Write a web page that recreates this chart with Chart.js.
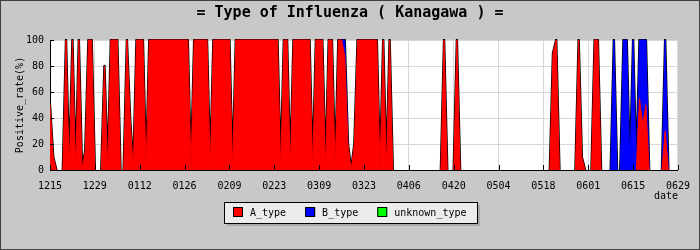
<!DOCTYPE html>
<html>
<head>
<meta charset="utf-8">
<script src="https://cdn.jsdelivr.net/npm/chart.js@4/dist/chart.umd.min.js"></script>
<style>
  html, body { margin: 0; padding: 0; background: #c8c8c8; }
  canvas { display: block; }
</style>
</head>
<body>
<canvas id="flu" width="700" height="250"></canvas>
<script>
// x axis: one tick every 14 days, 1215 .. 0629 (day 0 .. 196)
const tickLabels = ['1215', '1229', '0112', '0126', '0209', '0223', '0309', '0323',
  '0406', '0420', '0504', '0518', '0601', '0615', '0629'];

// daily positive rate (%), one row = 14 days
const aType = [
  50, 10, 0, 0, 0, 100, 0, 100, 0, 100, 0, 15, 100, 100,
  0, 0, 0, 80, 0, 100, 100, 100, 0, 0, 100, 40, 0, 100,
  100, 100, 0, 100, 100, 100, 100, 100, 100, 100, 100, 100, 100, 100,
  100, 100, 0, 100, 100, 100, 100, 100, 0, 100, 100, 100, 100, 100,
  100, 0, 100, 100, 100, 100, 100, 100, 100, 100, 100, 100, 100, 100,
  100, 100, 0, 100, 100, 0, 100, 100, 100, 100, 100, 100, 0, 100,
  100, 100, 0, 100, 100, 0, 100, 100, 88, 20, 0, 20, 100, 100,
  100, 100, 100, 100, 100, 0, 100, 0, 100, 0, 0, 0, 0, 0,
  0, 0, 0, 0, 0, 0, 0, 0, 0, 0, 0, 100, 0, 0,
  0, 100, 0, 0, 0, 0, 0, 0, 0, 0, 0, 0, 0, 0,
  0, 0, 0, 0, 0, 0, 0, 0, 0, 0, 0, 0, 0, 0,
  0, 0, 0, 90, 100, 0, 0, 0, 0, 0, 0, 100, 10, 0,
  0, 0, 100, 100, 0, 0, 0, 0, 0, 0, 0, 0, 0, 0,
  0, 0, 55, 35, 50, 0, 0, 0, 0, 0, 30, 0, 0, 0,
  0
];
const bType = [
  0, 0, 0, 0, 0, 0, 0, 0, 0, 0, 0, 0, 0, 0,
  0, 0, 0, 0, 0, 0, 0, 0, 0, 0, 0, 0, 0, 0,
  0, 0, 0, 0, 0, 0, 0, 0, 0, 0, 0, 0, 0, 0,
  0, 0, 0, 0, 0, 0, 0, 0, 0, 0, 0, 0, 0, 0,
  0, 0, 0, 0, 0, 0, 0, 0, 0, 0, 0, 0, 0, 0,
  0, 0, 0, 0, 0, 0, 0, 0, 0, 0, 0, 0, 0, 0,
  0, 0, 0, 0, 0, 0, 0, 0, 12, 0, 0, 0, 0, 0,
  0, 0, 0, 0, 0, 0, 0, 0, 0, 0, 0, 0, 0, 0,
  0, 0, 0, 0, 0, 0, 0, 0, 0, 0, 0, 0, 0, 0,
  0, 0, 0, 0, 0, 0, 0, 0, 0, 0, 0, 0, 0, 0,
  0, 0, 0, 0, 0, 0, 0, 0, 0, 0, 0, 0, 0, 0,
  0, 0, 0, 0, 0, 0, 0, 0, 0, 0, 0, 0, 0, 0,
  0, 0, 0, 0, 0, 0, 0, 0, 100, 0, 0, 100, 100, 0,
  100, 0, 45, 65, 50, 0, 0, 0, 0, 0, 70, 0, 0, 0,
  0
];
const unknownType = [
  0, 0, 0, 0, 0, 0, 0, 0, 0, 0, 0, 0, 0, 0,
  0, 0, 0, 0, 0, 0, 0, 0, 0, 0, 0, 0, 0, 0,
  0, 0, 0, 0, 0, 0, 0, 0, 0, 0, 0, 0, 0, 0,
  0, 0, 0, 0, 0, 0, 0, 0, 0, 0, 0, 0, 0, 0,
  0, 0, 0, 0, 0, 0, 0, 0, 0, 0, 0, 0, 0, 0,
  0, 0, 0, 0, 0, 0, 0, 0, 0, 0, 0, 0, 0, 0,
  0, 0, 0, 0, 0, 0, 0, 0, 0, 0, 0, 0, 0, 0,
  0, 0, 0, 0, 0, 0, 0, 0, 0, 0, 0, 0, 0, 0,
  0, 0, 0, 0, 0, 0, 0, 0, 0, 0, 0, 0, 0, 0,
  0, 0, 0, 0, 0, 0, 0, 0, 0, 0, 0, 0, 0, 0,
  0, 0, 0, 0, 0, 0, 0, 0, 0, 0, 0, 0, 0, 0,
  0, 0, 0, 0, 0, 0, 0, 0, 0, 0, 0, 0, 0, 0,
  0, 0, 0, 0, 0, 0, 0, 0, 0, 0, 0, 0, 0, 0,
  0, 0, 0, 0, 0, 0, 0, 0, 0, 0, 0, 0, 0, 0,
  0
];
const seriesNames = ['A_type', 'B_type', 'unknown_type'];
const seriesColors = ['#ff0000', '#0000ff', '#00ff00'];

const MONO = '"DejaVu Sans Mono", "Liberation Mono", monospace';
const smallFont = { family: MONO, size: 10 };

function points(values) {
  return values.map((v, i) => ({ x: i, y: v }));
}

// path along the stretches where a series has a value of its own
function ownEdgePath(ctx, chart, index) {
  const ds = chart.data.datasets[index];
  const pts = chart.getDatasetMeta(index).data;
  let open = false;
  for (let i = 0; i < pts.length - 1; i++) {
    if (ds.data[i].y > 0 || ds.data[i + 1].y > 0) {
      if (!open) { ctx.moveTo(pts[i].x, pts[i].y); open = true; }
      ctx.lineTo(pts[i + 1].x, pts[i + 1].y);
    } else {
      open = false;
    }
  }
}

function strokeEdges(chart, indexes, color, width) {
  const { ctx, chartArea: a } = chart;
  ctx.save();
  ctx.beginPath();
  ctx.rect(a.left, a.top - 1, a.right - a.left, a.bottom - a.top + 1);
  ctx.clip();
  ctx.strokeStyle = color;
  ctx.lineWidth = width;
  ctx.lineJoin = 'round';
  ctx.lineCap = 'round';
  ctx.beginPath();
  indexes.forEach(i => ownEdgePath(ctx, chart, i));
  ctx.stroke();
  ctx.restore();
}

// background, black rim outside the fills, inward ticks,
// title, legend box and outer frame
const decor = {
  id: 'decor',
  beforeDraw(chart) {
    const { ctx, chartArea: a } = chart;
    ctx.save();
    ctx.fillStyle = '#c8c8c8';
    ctx.fillRect(0, 0, chart.width, chart.height);
    ctx.fillStyle = '#ffffff';
    ctx.fillRect(a.left, a.top, a.right - a.left, a.bottom - a.top);
    ctx.restore();
  },
  beforeDatasetsDraw(chart) {
    strokeEdges(chart, chart.data.datasets.map((ds, i) => i), '#000', 2.4);
  },
  // runs after the filler has painted this dataset's area
  beforeDatasetDraw(chart, args) {
    strokeEdges(chart, [args.index], chart.data.datasets[args.index].backgroundColor, 1);
  },
  afterDatasetsDraw(chart) {
    const { ctx, chartArea: a, scales } = chart;
    ctx.save();
    ctx.strokeStyle = '#000';
    ctx.lineWidth = 1;
    ctx.beginPath();
    scales.y.ticks.forEach(t => {
      const py = Math.round(scales.y.getPixelForValue(t.value)) + 0.5;
      ctx.moveTo(a.left, py);
      ctx.lineTo(a.left + 4, py);
    });
    scales.x.ticks.forEach(t => {
      const px = Math.round(scales.x.getPixelForValue(t.value)) + 0.5;
      ctx.moveTo(px, a.bottom);
      ctx.lineTo(px, a.bottom - 5);
    });
    ctx.stroke();
    ctx.restore();
  },
  afterDraw(chart) {
    const ctx = chart.ctx;
    ctx.save();
    // title
    ctx.fillStyle = '#000';
    ctx.font = 'bold 15px ' + MONO;
    ctx.textAlign = 'center';
    ctx.textBaseline = 'middle';
    ctx.fillText('= Type of Influenza ( Kanagawa ) =', chart.width / 2, 13);

    // legend
    ctx.font = '10px ' + MONO;
    ctx.textAlign = 'left';
    const items = chart.data.datasets.map(ds => ({
      label: ds.label, color: ds.backgroundColor, w: ctx.measureText(ds.label).width
    }));
    let total = 9 + 11 - 19;
    items.forEach(it => { total += 10 + 7 + it.w + 19; });
    total = Math.round(total);
    const bx = Math.round((chart.width - total) / 2);
    const by = 202, bh = 21;
    ctx.fillStyle = '#a8a8a8';
    ctx.fillRect(bx + 3, by + 3, total, bh);
    ctx.fillStyle = '#ececec';
    ctx.fillRect(bx, by, total, bh);
    ctx.strokeStyle = '#000';
    ctx.lineWidth = 1;
    ctx.strokeRect(bx + 0.5, by + 0.5, total, bh);
    let x = bx + 9;
    items.forEach(it => {
      ctx.fillStyle = it.color;
      ctx.fillRect(x, by + 5, 10, 10);
      ctx.strokeRect(x + 0.5, by + 5.5, 9, 9);
      ctx.fillStyle = '#000';
      ctx.textBaseline = 'middle';
      ctx.fillText(it.label, x + 17, by + 11);
      x += 17 + it.w + 19;
    });

    // outer frame
    ctx.strokeStyle = '#404040';
    ctx.strokeRect(0.5, 0.5, chart.width - 1, chart.height - 1);
    ctx.restore();
  }
};

new Chart(document.getElementById('flu'), {
  type: 'line',
  data: {
    datasets: [
      { label: seriesNames[0], data: points(aType), backgroundColor: seriesColors[0], fill: 'origin' },
      { label: seriesNames[1], data: points(bType), backgroundColor: seriesColors[1], fill: '-1' },
      { label: seriesNames[2], data: points(unknownType), backgroundColor: seriesColors[2], fill: '-1' }
    ]
  },
  options: {
    responsive: false,
    animation: false,
    layout: { padding: { top: 40, right: 20, bottom: 48, left: 0 } },
    elements: {
      point: { radius: 0 },
      line: { tension: 0, borderWidth: 0 }
    },
    plugins: {
      legend: { display: false },
      title: { display: false },
      tooltip: { enabled: false }
    },
    scales: {
      x: {
        type: 'linear',
        min: 0,
        max: 196,
        afterFit(s) { s.height = 32; },
        border: { color: '#000', width: 1 },
        grid: { color: '#d8d8d8', drawTicks: false },
        ticks: {
          stepSize: 14,
          autoSkip: false,
          maxRotation: 0,
          padding: 10,
          color: '#000',
          font: smallFont,
          callback: v => tickLabels[v / 14]
        },
        title: { display: true, text: 'date', align: 'end', color: '#000', font: smallFont, padding: 0 }
      },
      y: {
        stacked: true,
        min: 0,
        max: 100,
        afterFit(s) { s.width = 50; },
        border: { color: '#000', width: 1 },
        grid: {
          color: c => (c.tick.value % 20 === 0 ? '#d8d8d8' : 'rgba(0,0,0,0)'),
          drawTicks: false
        },
        ticks: {
          stepSize: 10,
          padding: 6,
          color: '#000',
          font: smallFont,
          callback: v => (v % 20 === 0 ? v : '')
        },
        title: {
          display: true,
          text: 'Positive_rate(%)',
          color: '#000',
          font: smallFont,
          padding: { top: 14, bottom: 0 }
        }
      }
    }
  },
  plugins: [decor]
});
</script>
</body>
</html>
